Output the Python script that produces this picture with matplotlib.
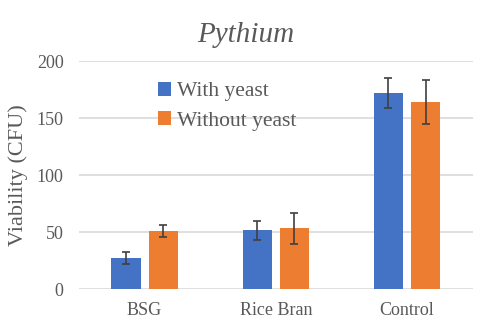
import matplotlib
matplotlib.use("Agg")
import matplotlib.pyplot as plt
import numpy as np

categories = ["BSG", "Rice Bran", "Control"]
with_yeast = [27.5, 51.7, 172.0]
with_yeast_err = [5.5, 8.3, 13.4]
without_yeast = [51.0, 53.4, 164.1]
without_yeast_err = [5.0, 13.4, 19.2]
series_names = ["With yeast", "Without yeast"]

serif = ["Liberation Serif", "DejaVu Serif"]
grey_text = "#595959"

fig = plt.figure(figsize=(4.92, 3.35), dpi=100)
ax = fig.add_axes([0.1606, 0.1364, 0.8002, 0.6815])

x = np.arange(len(categories))
w = 0.223
off = 0.142
err_kw = dict(ecolor="#404040", elinewidth=1.2, capsize=3.2, capthick=1.2)
ax.bar(x - off, with_yeast, w, yerr=with_yeast_err, color="#4472C4",
       label=series_names[0], error_kw=err_kw, zorder=3)
ax.bar(x + off, without_yeast, w, yerr=without_yeast_err, color="#ED7D31",
       label=series_names[1], error_kw=err_kw, zorder=3)

ax.set_xlim(-0.5, 2.5)
ax.set_ylim(0, 200)
ax.set_yticks([0, 50, 100, 150, 200])
ax.set_xticks(x)
ax.set_xticklabels(categories)
ax.yaxis.grid(True, color="#D9D9D9", linewidth=1.2, zorder=0)
ax.set_axisbelow(True)
for s in ax.spines.values():
    s.set_visible(False)
ax.tick_params(length=0, labelsize=13, labelcolor=grey_text)
ax.tick_params(axis="y", pad=11)
ax.tick_params(axis="x", pad=9)
for lab in ax.get_xticklabels() + ax.get_yticklabels():
    lab.set_family(serif)

ax.set_ylabel("Viability (CFU)", fontsize=16, color=grey_text, family=serif, labelpad=6)
fig.text(0.5, 0.8755, "Pythium", fontsize=21, style="italic", color=grey_text,
         family=serif, ha="center", va="baseline")

leg = ax.legend(loc="upper left", bbox_to_anchor=(0.321, 0.755),
                bbox_transform=fig.transFigure, frameon=False,
                prop=dict(family=serif, size=15.5), borderpad=0, borderaxespad=0,
                handlelength=0.6, handleheight=0.6, handletextpad=0.3,
                labelspacing=0.45)
for t in leg.get_texts():
    t.set_color(grey_text)

fig.savefig("out.png", dpi=100)
